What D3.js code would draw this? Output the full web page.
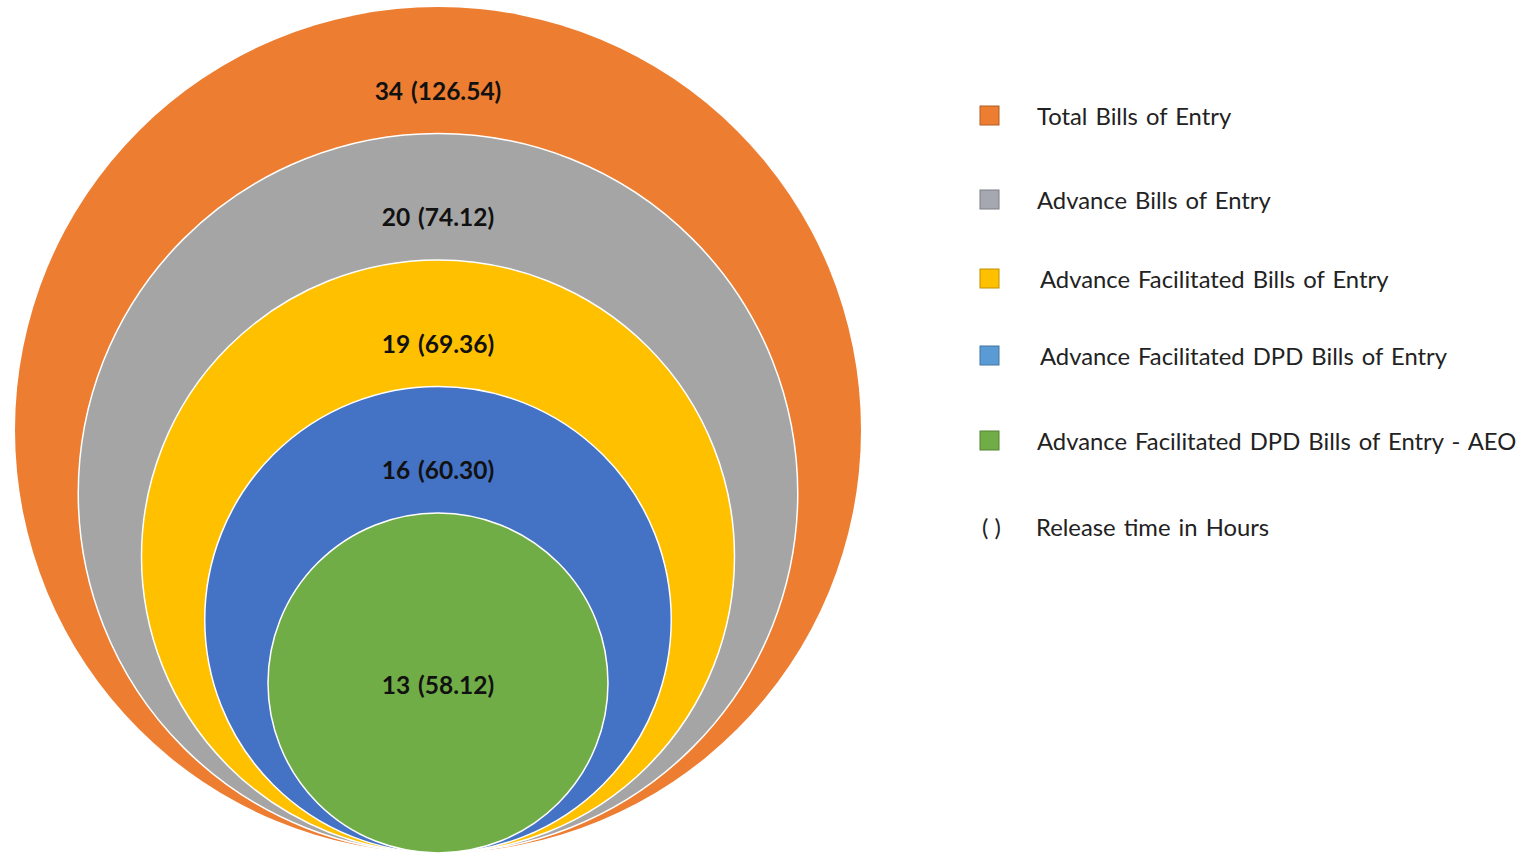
<!DOCTYPE html>
<html>
<head>
<meta charset="utf-8">
<script src="https://cdn.jsdelivr.net/npm/d3@7"></script>
<style>
  html, body { margin: 0; padding: 0; background: #fff; }
  svg { display: block; }
  text { font-family: Lato, "Open Sans", sans-serif; }
</style>
</head>
<body>
<svg id="chart" width="1519" height="853"></svg>
<script>
// ---- Data ----
const categories = [
  "Total Bills of Entry",
  "Advance Bills of Entry",
  "Advance Facilitated Bills of Entry",
  "Advance Facilitated DPD Bills of Entry",
  "Advance Facilitated DPD Bills of Entry - AEO"
];
const counts = [34, 20, 19, 16, 13];
const releaseHours = ["126.54", "74.12", "69.36", "60.30", "58.12"];
const circleColors = ["#ED7D31", "#A5A5A5", "#FFC000", "#4472C4", "#70AD47"];
const legendColors = ["#ED7D31", "#A5A8B0", "#FFC000", "#5B9BD5", "#70AD47"];
const noteSymbol = "( )";
const noteText = "Release time in Hours";

// ---- Layout ----
const svg = d3.select("#chart");
const cx = 438, bottomY = 853;
const idx = d3.range(categories.length);
const rScale = d3.scaleLinear().domain([0, categories.length - 1]).range([423, 170]);

const g = svg.append("g");
g.selectAll("circle.ring")
  .data(idx)
  .join("circle")
  .attr("class", "ring")
  .attr("cx", cx)
  .attr("cy", i => bottomY - rScale(i))
  .attr("r", i => rScale(i))
  .attr("fill", i => circleColors[i])
  .attr("stroke", i => i === 0 ? "none" : "#fff")
  .attr("stroke-width", 1.5);

// labels
g.selectAll("text.lbl")
  .data(idx)
  .join("text")
  .attr("class", "lbl")
  .attr("x", cx)
  .attr("y", i => i === categories.length - 1
      ? bottomY - rScale(i) + 1
      : bottomY - 2 * rScale(i) + 83)
  .attr("text-anchor", "middle")
  .attr("dominant-baseline", "central")
  .attr("font-size", 24.5)
  .attr("font-weight", "bold")
  .attr("word-spacing", 2)
  .attr("fill", "#111")
  .text(i => `${counts[i]} (${releaseHours[i]})`);

// ---- Legend ----
const rowY = [116, 200, 279, 356, 441, 527];
const leg = svg.append("g");
idx.forEach(i => {
  leg.append("rect")
    .attr("x", 980).attr("y", rowY[i] - 10)
    .attr("width", 19).attr("height", 19)
    .attr("fill", legendColors[i])
    .attr("stroke", d3.color(legendColors[i]).darker(0.8))
    .attr("stroke-width", 1);
  leg.append("text")
    .attr("x", i >= 2 && i <= 3 ? 1040 : 1037)
    .attr("y", rowY[i])
    .attr("dominant-baseline", "central")
    .attr("font-size", 23.8)
    .attr("word-spacing", 2)
    .attr("fill", "#222")
    .text(categories[i]);
});
leg.append("text")
  .attr("x", 982).attr("y", rowY[5])
  .attr("dominant-baseline", "central")
  .attr("font-size", 23.8).attr("fill", "#222")
  .text(noteSymbol);
leg.append("text")
  .attr("x", 1036).attr("y", rowY[5])
  .attr("dominant-baseline", "central")
  .attr("font-size", 23.8).attr("word-spacing", 2).attr("fill", "#222")
  .text(noteText);
</script>
</body>
</html>
